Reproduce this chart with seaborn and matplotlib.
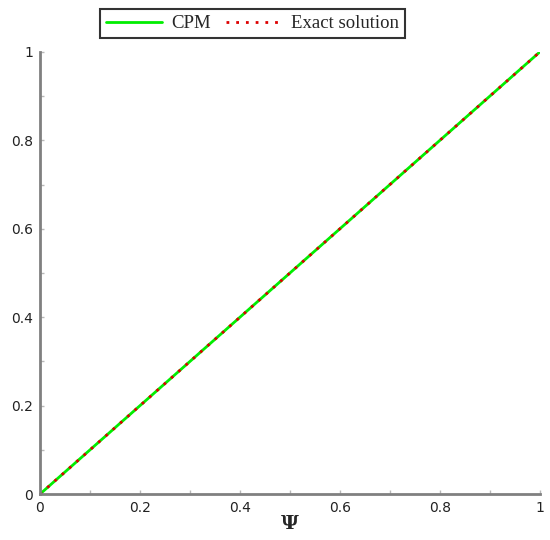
import numpy as np
import pandas as pd
import matplotlib
matplotlib.use("Agg")
import matplotlib.pyplot as plt
import seaborn as sns

# values: both curves are the line y = psi
psi = [0.0, 0.2, 0.4, 0.6, 0.8, 1.0]
cpm = [0.0, 0.2, 0.4, 0.6, 0.8, 1.0]
exact = [0.0, 0.2, 0.4, 0.6, 0.8, 1.0]
ticks = [0, 0.2, 0.4, 0.6, 0.8, 1]
tick_labels = ["0", "0.2", "0.4", "0.6", "0.8", "1"]

sns.set_style("white")
plt.rcParams["font.family"] = ["DejaVu Sans"]

df = pd.DataFrame({"psi": psi, "CPM": cpm, "Exact solution": exact})

fig = plt.figure(figsize=(5.5, 5.4), dpi=100)
ax = fig.add_axes([0.0727, 0.085, 0.909, 0.819])

sns.lineplot(data=df, x="psi", y="CPM", ax=ax, color="#00ee00", lw=2, label="CPM")
sns.lineplot(data=df, x="psi", y="Exact solution", ax=ax, color="#dd0000", lw=2,
             linestyle=(0, (1, 2.5)), label="Exact solution")

ax.set_xlim(0, 1)
ax.set_ylim(0, 1)
ax.set_xticks(ticks)
ax.set_xticklabels(tick_labels)
ax.set_yticks(ticks)
ax.set_yticklabels(tick_labels)
ax.set_xticks([0.1, 0.3, 0.5, 0.7, 0.9], minor=True)
ax.set_yticks([0.1, 0.3, 0.5, 0.7, 0.9], minor=True)
ax.tick_params(which="both", bottom=True, left=True, direction="in", color="#b8b8b8",
               labelsize=10, labelcolor="#222222", length=3, width=1)
ax.tick_params(which="major", pad=5)

for side in ["top", "right"]:
    ax.spines[side].set_visible(False)
for side in ["left", "bottom"]:
    ax.spines[side].set_color("#808080")
    ax.spines[side].set_linewidth(2)

ax.set_ylabel("")
ax.set_xlabel("Ψ", fontsize=14, fontweight="bold", family="DejaVu Serif", labelpad=0)

ax.get_legend().remove()
handles, labels = ax.get_legend_handles_labels()
leg = fig.legend(handles, labels, loc="upper center", bbox_to_anchor=(0.459, 1.0),
                 ncol=2, frameon=True, fancybox=False, handlelength=3, columnspacing=0.8,
                 handletextpad=0.5, borderpad=0.3,
                 prop={"family": "Liberation Serif", "size": 13.5})
leg.get_frame().set_edgecolor("black")
leg.get_frame().set_linewidth(1.5)

fig.savefig("out.png", dpi=100)
